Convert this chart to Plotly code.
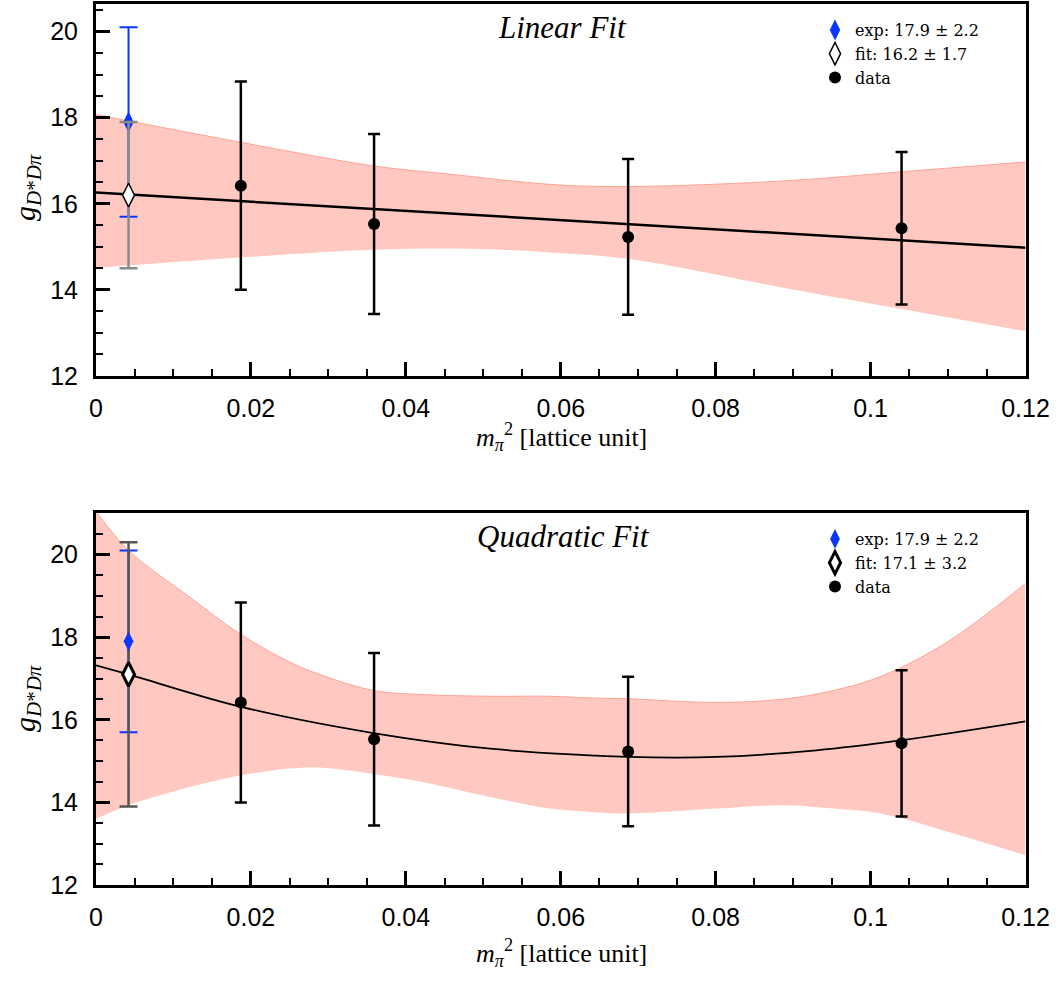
import plotly.graph_objects as go

# ---------------- data ----------------
x_data = [0.0187, 0.0359, 0.0687, 0.1040]
g_data = [16.42, 15.53, 15.23, 15.43]
g_err = [2.42, 2.09, 1.81, 1.77]

x_phys = [0.0042]
exp_val = [17.9]
exp_err = [2.2]
lin_fit_val = [16.2]
lin_fit_err = [1.7]
quad_fit_val = [17.1]
quad_fit_err = [3.2]

# linear fit curve and error band
lin_line_x = [0.0, 0.12]
lin_line_y = [16.26, 14.98]
lin_band_x = [0.0, 0.0186, 0.0358, 0.0466, 0.0586, 0.0686, 0.0887, 0.1038, 0.12]
lin_band_up = [18.07, 17.43, 16.88, 16.67, 16.45, 16.40, 16.53, 16.74, 16.97]
lin_band_lo = [14.51, 14.75, 14.93, 14.96, 14.87, 14.72, 14.05, 13.56, 13.04]

# quadratic fit curve and error band
quad_line_x = [0.0, 0.0042, 0.0186, 0.0358, 0.0509, 0.0638, 0.0686, 0.0801, 0.093, 0.1038, 0.12]
quad_line_y = [17.32, 17.10, 16.32, 15.68, 15.30, 15.14, 15.10, 15.10, 15.26, 15.50, 15.96]
quad_band_x = [0.0, 0.0042, 0.0121, 0.0186, 0.0250, 0.0293, 0.0358, 0.0423, 0.0509,
               0.0586, 0.0638, 0.0686, 0.0801, 0.0887, 0.0952, 0.1016, 0.1102, 0.12]
quad_band_up = [21.05, 20.10, 18.97, 18.08, 17.40, 17.07, 16.71, 16.61, 16.57,
                16.57, 16.53, 16.51, 16.42, 16.50, 16.71, 17.07, 17.92, 19.30]
quad_band_lo = [13.60, 13.93, 14.37, 14.65, 14.82, 14.84, 14.69, 14.49, 14.13,
                13.85, 13.77, 13.73, 13.85, 13.93, 13.85, 13.72, 13.28, 12.72]

x_tickvals = [0, 0.02, 0.04, 0.06, 0.08, 0.1, 0.12]
x_ticktext = ["0", "0.02", "0.04", "0.06", "0.08", "0.1", "0.12"]
y_tickvals = [12, 14, 16, 18, 20]
y_ticktext = ["12", "14", "16", "18", "20"]

titles = ["Linear Fit", "Quadratic Fit"]
exp_label = "exp: 17.9 ± 2.2"
fit_labels = ["fit: 16.2 ± 1.7", "fit: 17.1 ± 3.2"]
data_label = "data"
xlabel = "<i>m</i><sub><i>π</i></sub><sup>2</sup> [lattice unit]"
ylabel = "<i>g</i><sub><i>D</i>*<i>Dπ</i></sub>"

# ---------------- styles ----------------
BAND = "#ffc9c1"
BAND_EDGE = "#ffa393"
BLUE = "#0a37ff"
W, H = 1064, 981

def px(xp):                  # page x pixel -> paper fraction
    return xp / W

def py(yp):                  # page y pixel (from top) -> paper fraction
    return 1 - yp / H

fig = go.Figure()

def add_panel(xa, ya, legend, band_x, band_up, band_lo, line_x, line_y, line_shape,
              line_w, fit_val, fit_err, fit_label, fit_bar_color, fit_outline, bottom):
    fig.add_trace(go.Scatter(x=band_x, y=band_lo, mode="lines", line=dict(width=0, shape="spline", color=BAND),
                             showlegend=False, hoverinfo="skip", xaxis=xa, yaxis=ya, legend=legend))
    fig.add_trace(go.Scatter(x=band_x, y=band_up, mode="lines", fill="tonexty", fillcolor=BAND,
                             line=dict(width=1, shape="spline", color=BAND_EDGE),
                             showlegend=False, hoverinfo="skip", xaxis=xa, yaxis=ya, legend=legend))
    fig.add_trace(go.Scatter(x=line_x, y=line_y, mode="lines", line=dict(color="black", width=line_w, shape=line_shape),
                             showlegend=False, hoverinfo="skip", xaxis=xa, yaxis=ya, legend=legend))
    fig.add_trace(go.Scatter(x=x_data, y=g_data, mode="markers", name=data_label,
                             marker=dict(symbol="circle", size=12, color="black"),
                             error_y=dict(type="data", array=g_err, visible=True, color="black", thickness=2.5, width=6),
                             legend=legend, legendrank=3, xaxis=xa, yaxis=ya))
    if not bottom:
        fig.add_trace(go.Scatter(x=x_phys, y=exp_val, mode="markers", name=exp_label,
                                 marker=dict(symbol="diamond-tall", size=15, color=BLUE),
                                 error_y=dict(type="data", array=exp_err, visible=True, color=BLUE, thickness=2, width=9),
                                 legend=legend, legendrank=1, xaxis=xa, yaxis=ya))
        fig.add_trace(go.Scatter(x=x_phys, y=fit_val, mode="markers", name=fit_label,
                                 marker=dict(symbol="diamond-tall", size=17, color="white",
                                             line=dict(color="black", width=fit_outline)),
                                 error_y=dict(type="data", array=fit_err, visible=True, color=fit_bar_color, thickness=2.5, width=9),
                                 legend=legend, legendrank=2, xaxis=xa, yaxis=ya))
    else:
        fig.add_trace(go.Scatter(x=x_phys, y=exp_val, mode="markers", showlegend=False,
                                 marker=dict(symbol="diamond-tall", size=14, color=BLUE, opacity=0),
                                 error_y=dict(type="data", array=exp_err, visible=True, color=BLUE, thickness=2, width=9),
                                 hoverinfo="skip", xaxis=xa, yaxis=ya, legend=legend))
        fig.add_trace(go.Scatter(x=x_phys, y=fit_val, mode="markers", name=fit_label,
                                 marker=dict(symbol="diamond-tall", size=17, color="white",
                                             line=dict(color="black", width=fit_outline)),
                                 error_y=dict(type="data", array=fit_err, visible=True, color=fit_bar_color, thickness=2.5, width=9),
                                 legend=legend, legendrank=2, xaxis=xa, yaxis=ya))
        fig.add_trace(go.Scatter(x=x_phys, y=exp_val, mode="markers", name=exp_label,
                                 marker=dict(symbol="diamond-tall", size=14, color=BLUE),
                                 legend=legend, legendrank=1, xaxis=xa, yaxis=ya))

add_panel("x", "y", "legend", lin_band_x, lin_band_up, lin_band_lo, lin_line_x, lin_line_y, "linear",
          2.5, lin_fit_val, lin_fit_err, fit_labels[0], "#8a8a8a", 1.5, False)
add_panel("x2", "y2", "legend2", quad_band_x, quad_band_up, quad_band_lo, quad_line_x, quad_line_y, "spline",
          1.8, quad_fit_val, quad_fit_err, fit_labels[1], "#555555", 3, True)

TICKFONT = dict(family="Liberation Sans, Arial, sans-serif", size=25, color="black")

def xaxis_style(anchor):
    return dict(anchor=anchor, domain=[px(96), px(1025.5)], range=[0, 0.12], automargin=False,
                tickvals=x_tickvals, ticktext=x_ticktext,
                showline=True, linewidth=3, linecolor="black", mirror=True,
                ticks="inside", ticklen=14, tickwidth=2.5, tickcolor="black",
                showgrid=False, zeroline=False, ticklabelstandoff=8, tickfont=TICKFONT,
                minor=dict(ticks="inside", ticklen=7, tickwidth=1.5, tickcolor="black",
                           dtick=0.005, tick0=0, showgrid=False))

def yaxis_style(anchor, dom, rng):
    return dict(anchor=anchor, domain=dom, range=rng, automargin=False,
                tickvals=y_tickvals, ticktext=y_ticktext,
                showline=True, linewidth=3, linecolor="black", mirror=True,
                ticks="inside", ticklen=14, tickwidth=2.5, tickcolor="black",
                showgrid=False, zeroline=False, ticklabelstandoff=10, tickfont=TICKFONT,
                minor=dict(ticks="inside", ticklen=7, tickwidth=1.5, tickcolor="black",
                           dtick=0.5, tick0=12, showgrid=False))

legend_style = dict(font=dict(family="DejaVu Serif, serif", size=16, color="black"),
                    bgcolor="rgba(0,0,0,0)", borderwidth=0, xanchor="left", yanchor="top",
                    tracegroupgap=0, itemclick=False, traceorder="normal")

fig.update_layout(
    width=W, height=H,
    margin=dict(l=0, r=0, t=0, b=0, autoexpand=False),
    paper_bgcolor="white", plot_bgcolor="white",
    xaxis=xaxis_style("y"),
    yaxis=yaxis_style("x", [py(376), py(3.5)], [12, 20.65]),
    xaxis2=xaxis_style("y2"),
    yaxis2=yaxis_style("x2", [py(885), py(513.3)], [12, 21.0]),
    legend=dict(x=px(815), y=py(13), **legend_style),
    legend2=dict(x=px(815), y=py(522), **legend_style),
    showlegend=True,
)

annots = [
    dict(text=titles[0], x=px(562), y=py(27), font=dict(family="Liberation Serif, serif", size=31, style="italic")),
    dict(text=titles[1], x=px(563), y=py(536), font=dict(family="Liberation Serif, serif", size=31, style="italic")),
    dict(text=xlabel, x=px(561), y=py(437), font=dict(family="Liberation Serif, serif", size=26)),
    dict(text=xlabel, x=px(561), y=py(953), font=dict(family="Liberation Serif, serif", size=26)),
    dict(text=ylabel, x=px(27), y=py(188), textangle=-90, font=dict(family="Liberation Serif, serif", size=30)),
    dict(text=ylabel, x=px(27), y=py(699), textangle=-90, font=dict(family="Liberation Serif, serif", size=30)),
]
for a in annots:
    a["font"]["color"] = "black"
    fig.add_annotation(xref="paper", yref="paper", showarrow=False, xanchor="center", yanchor="middle", **a)

# remove the browser's default 8px page margin so the figure fills the window exactly
fig.write_html("out.html", config={"displayModeBar": False},
               post_script="document.body.style.margin='0';")
